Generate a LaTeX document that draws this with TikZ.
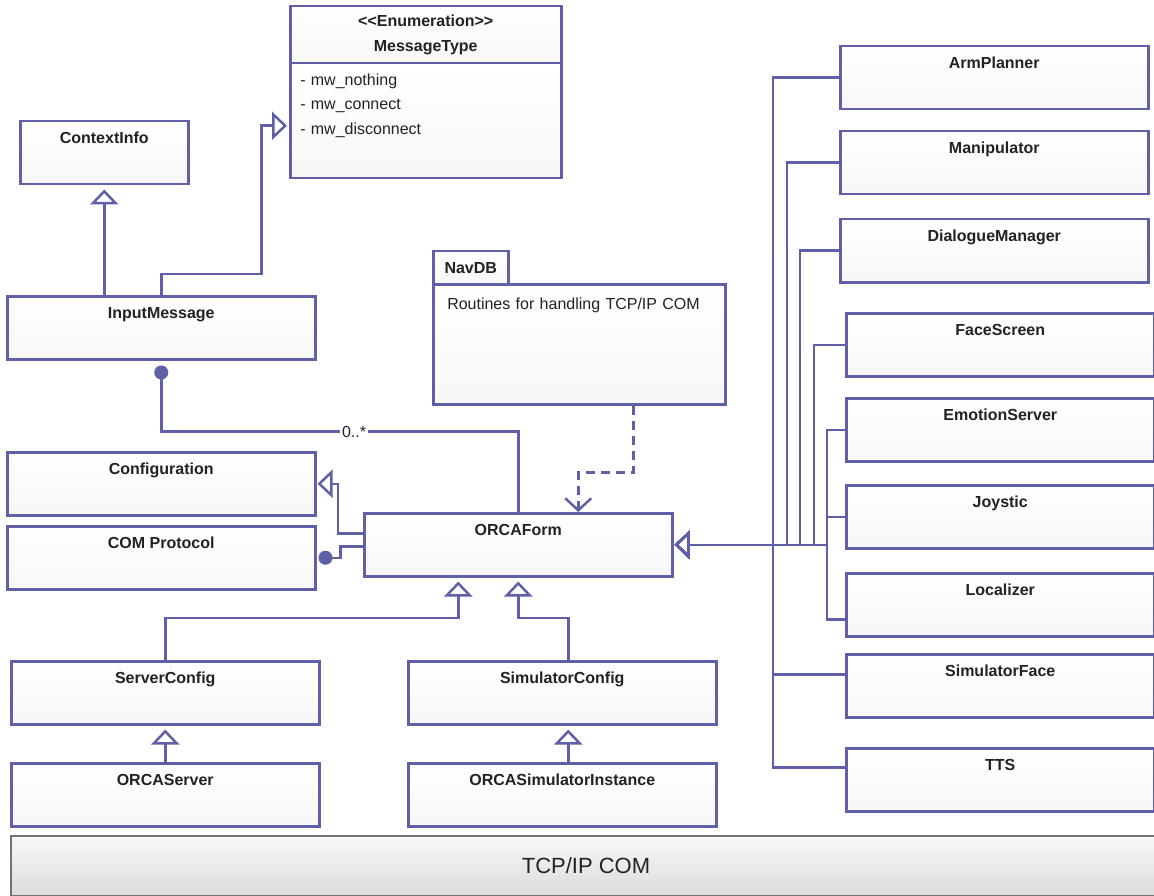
\documentclass[tikz,border=0pt]{standalone}
\usepackage{fontspec}
\setmainfont{Liberation Sans}
\usetikzlibrary{arrows.meta}
\definecolor{umlline}{HTML}{6060A8}
\definecolor{umltext}{HTML}{222222}
\begin{document}
\begin{tikzpicture}[x=1pt,y=-1pt,
    box/.style={draw=umlline,line width=2.5pt,top color=white,bottom color=black!3,anchor=north west,text=umltext},
    cls/.style={box,minimum width=308pt,text height=11pt,text depth=29pt,inner ysep=11.5pt,font=\bfseries\fontsize{16}{19}\selectfont},
    hdr/.style={box,align=center,font=\bfseries\fontsize{16}{24.5}\selectfont},
    lst/.style={box,text width=#1,align=left,inner xsep=10pt,font=\fontsize{16}{24.5}\selectfont},
    gen/.style={draw=umlline,line width=2.5pt,-{Triangle[open,length=15pt,width=28pt]},shorten >=4pt},
    comp/.style={draw=umlline,line width=2.5pt,{Circle[length=14pt]}-},
    dep/.style={draw=umlline,line width=2.5pt,dash pattern=on 9pt off 6pt,-{Straight Barb[length=12pt,width=26pt]}},
    mult/.style={fill=white,text=umltext,inner xsep=2pt,inner ysep=1pt,font=\fontsize{16}{19}\selectfont}]
\useasboundingbox (0,0) rectangle (1154,896);

% enumeration and package
\node[hdr,minimum width=271pt,minimum height=57pt] (mthead) at (289,5) {<\kern0pt<Enumeration>\kern0pt>\\MessageType};
\node[lst=251pt,minimum width=271pt,text height=11pt,text depth=82pt,inner ysep=11pt] (mtbody) at (289,62)
    {\begin{tabular}[t]{@{}l@{}}- mw\_nothing\\- mw\_connect\\- mw\_disconnect\end{tabular}};
\node[box,minimum width=75pt,minimum height=33pt,font=\bfseries\fontsize{16}{19}\selectfont] (navtab) at (432,250) {NavDB};
\node[lst=264pt,inner xsep=14pt,text height=13pt,text depth=83pt,inner ysep=12pt] (navdb) at (432,283) {Routines for handling TCP/IP COM};

% classes on the left
\node[cls,minimum width=168pt] (ctx) at (19,120) {ContextInfo};
\node[cls] (input) at (6,295) {InputMessage};
\node[cls] (config) at (6,451) {Configuration};
\node[cls] (comproto) at (6,525) {COM Protocol};
\node[cls] (orca) at (363,512) {ORCAForm};
\node[cls] (srvcfg) at (10,660) {ServerConfig};
\node[cls] (simcfg) at (407,660) {SimulatorConfig};
\node[cls] (orcasrv) at (10,762) {ORCAServer};
\node[cls] (orcasim) at (407,762) {ORCASimulatorInstance};

\node[anchor=north west,draw=black!55,line width=2pt,top color=black!3,bottom color=black!14,
    minimum width=1150pt,minimum height=60pt,text=umltext,font=\fontsize{22}{26}\selectfont] (tcpip) at (10,835) {TCP/IP COM};

\draw[gen] (ctx.south |- input.north) -- (ctx.south);
\draw[gen,shorten >=2pt] (input.north) |- ++(100,-21) |- ([yshift=-5pt]mtbody.west);
\draw[comp,shorten <=5pt] (input.south) -- ++(0,71) -| (orca.north) node[mult,pos=0.27] (mul) {0..*};
\draw[gen,shorten >=1pt] ([yshift=11.5pt]orca.west) -- ++(-25,0) |- (config.east);
\draw[comp,shorten <=2pt] (comproto.east) -- ++(24,0) |- ([yshift=-1.5pt]orca.west);
\draw[dep] ([xshift=54pt]navdb.south) -- ++(0,67) -| ([xshift=60pt]orca.north);

\draw[gen] (srvcfg.north) -- ++(0,-42) -| ([xshift=-60pt]orca.south);
\draw[gen] ([xshift=6pt]simcfg.north) -- ++(0,-42) -| (orca.south);
\draw[gen] (orcasrv.north) -- (srvcfg.south);
\draw[gen] ([xshift=6pt]orcasim.north) -- ([xshift=6pt]simcfg.south);

% classes on the right
\foreach \nm/\txt/\x/\y/\bx/\dy in {arm/ArmPlanner/839/45/773/0, manip/Manipulator/839/130/787/0,
    dialog/DialogueManager/839/218/800/0, face/FaceScreen/845/312/814/0, emotion/EmotionServer/845/397/827/0,
    joy/Joystic/845/484/827/0, loc/Localizer/845/572/827/-14.5, simface/SimulatorFace/845/653/773/11.5,
    tts/TTS/845/747/773/12.5}
{
    \node[cls] (\nm) at (\x,\y) {\txt};
    \draw[gen,shorten >=1pt] ([yshift=\dy pt]\nm.west) -- ++({\bx-\x},0) |- (orca.east);
}

\end{tikzpicture}
\end{document}
